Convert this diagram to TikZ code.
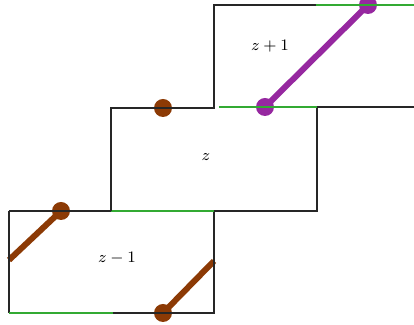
\documentclass[tikz,border=0pt]{standalone}
\usepackage{xcolor}
\definecolor{cbrown}{RGB}{140,58,5}
\definecolor{cpurple}{RGB}{150,40,160}
\definecolor{cgreen}{RGB}{50,170,50}
\begin{document}
\begin{tikzpicture}[x=0.5pt,y=-0.5pt,
  edge/.style={line width=1pt,black!85},
  gedge/.style={line width=1pt,cgreen},
  strand/.style={line width=3pt},
  lab/.style={font=\footnotesize}]
\useasboundingbox (0,0) rectangle (414,325);
% strands and dots
\coordinate (b1) at (61,211);
\coordinate (b2) at (163,313);
\coordinate (b3) at (163,108);
\coordinate (p1) at (265,107);
\coordinate (p2) at (368,5);
\coordinate (bl) at (9,260);
\coordinate (br) at (214,261);
\draw[strand,cbrown] (bl) -- (b1);
\draw[strand,cbrown] (b2) -- (br);
\draw[strand,cpurple] (p1) -- (p2);
\fill[cbrown] (b1) circle (4.5pt);
\fill[cbrown] (b2) circle (4.5pt);
\fill[cbrown] (b3) circle (4.5pt);
\fill[cpurple] (p1) circle (4.5pt);
\fill[cpurple] (p2) circle (4.5pt);
% bottom cell
\draw[edge] (9,211) -- (9,313);
\draw[gedge] (9,313) -- (113,313);
\draw[edge] (113,313) -- (214,313) -- (214,211);
\draw[edge] (9,211) -- (111,211);
\draw[gedge] (111,211) -- (214,211);
\draw[edge] (214,211) -- (317,211) -- (317,108);
% middle cell
\draw[edge] (111,211) -- (111,108) -- (214,108) -- (214,5) -- (316,5);
\draw[gedge] (219,107) -- (317,107);
\draw[edge] (317,107) -- (414,107);
\draw[gedge] (316,5) -- (414,5);
% labels
\node[lab] (l1) at (117,258) {$z-1$};
\node[lab] (l2) at (206,157) {$z$};
\node[lab] (l3) at (270,46) {$z+1$};
\end{tikzpicture}
\end{document}
